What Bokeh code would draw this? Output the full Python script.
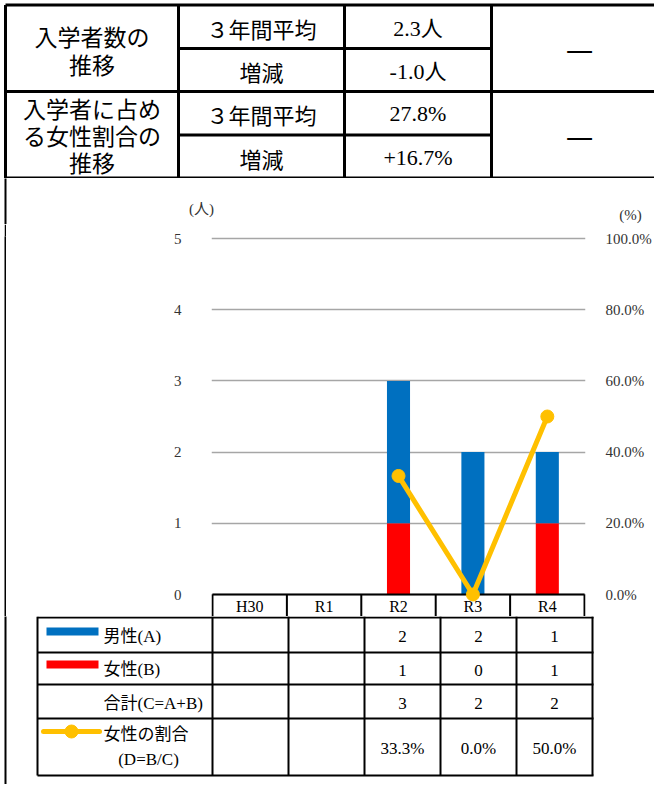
from bokeh.plotting import figure
from bokeh.models import (Range1d, FactorRange, LinearAxis, FixedTicker,
                          PrintfTickFormatter, ColumnDataSource, Spacer)
from bokeh.layouts import column, row
from bokeh.transform import dodge
from bokeh.embed import file_html
from bokeh.resources import INLINE
from bokeh.core.properties import value

# ---------------- data ----------------
categories = ["H30", "R1", "R2", "R3", "R4"]
male = [None, None, 2, 2, 1]
female = [None, None, 1, 0, 1]
total = [None, None, 3, 2, 2]
female_ratio = [None, None, 33.3, 0.0, 50.0]

count_ticks = [0, 1, 2, 3, 4, 5]
ratio_ticks = [0, 20, 40, 60, 80, 100]

summary_group1 = ["入学者数の", "推移"]
summary_group2 = ["入学者に占め", "る女性割合の", "推移"]
summary_items = ["３年間平均", "増減", "３年間平均", "増減"]
summary_values = ["2.3人", "-1.0人", "27.8%", "+16.7%"]
summary_notes = ["—", "—"]

table_row_labels = ["男性(A)", "女性(B)", "合計(C=A+B)", "女性の割合"]
table_ratio_sub = "(D=B/C)"
left_unit = "(人)"
right_unit = "(%)"

# ---------------- styles ----------------
BLUE = "#0070C0"
RED = "#FF0000"
GOLD = "#FFC000"
GRID = "#A6A6A6"
TICK = "#333333"
JP = "Noto Sans CJK JP"
MIX = "Liberation Serif, Noto Sans CJK JP"
SERIF = "Liberation Serif"
W = 654


def blank(width, height, xr, yr, **kw):
    p = figure(width=width, height=height, x_range=xr, y_range=yr,
               toolbar_location=None, output_backend="svg", min_border=0,
               x_axis_location=None, y_axis_location=None,
               outline_line_color=None, **kw)
    p.grid.visible = False
    return p


def lines(p, segs, width, color="black"):
    p.segment(x0=[s[0] for s in segs], y0=[s[1] for s in segs],
              x1=[s[2] for s in segs], y1=[s[3] for s in segs],
              line_width=width, line_color=color)


# ---------------- top summary table ----------------
pa = blank(W, 178, Range1d(0, W), Range1d(178, 0))
c1, c2, c3, c4, c5 = 5, 178, 344, 491, W
r0, r1, r2, r3, r4 = 4.5, 48, 91, 134.5, 177
lines(pa, [(c1, r0, c5, r0), (c1, r0, c1, 178), (c1, r2, c5, r2),
           (c2, r1, c4, r1), (c2, r3, c4, r3),
           (c2, r0, c2, 178), (c3, r0, c3, 178), (c4, r0, c4, 178)], 3)
lines(pa, [(c1, r4, c5, r4)], 2)

pa.text(x=[91.5] * 2, y=[35, 63], text=summary_group1,
        text_font=value(JP), text_font_size="23px",
        text_align="center", text_baseline="middle", text_color="black")
pa.text(x=[91.5] * 3, y=[107.5, 134.5, 161], text=summary_group2,
        text_font=value(JP), text_font_size="23px",
        text_align="center", text_baseline="middle", text_color="black")
row_y = [27.5, 70.5, 113, 157]
pa.text(x=[(c2 + c3) / 2] * 4, y=row_y, text=summary_items,
        text_font=value(JP), text_font_size="22px",
        text_align="center", text_baseline="middle", text_color="black")
pa.text(x=[(c3 + c4) / 2] * 4, y=row_y, text=summary_values,
        text_font=value(MIX), text_font_size="22px",
        text_align="center", text_baseline="middle", text_color="black")
pa.text(x=[579, 579], y=[47, 134], text=summary_notes,
        text_font=value(JP), text_font_size="31px",
        text_align="center", text_baseline="middle", text_color="black")

# ---------------- unit captions strip ----------------
pu = blank(W, 46, Range1d(0, W), Range1d(224, 178))
lines(pu, [(5, 170, 5, 230)], 2)
pu.text(x=[201, 630], y=[208, 214], text=[left_unit, right_unit],
        text_font=value(MIX), text_font_size="15px",
        text_align="center", text_baseline="middle", text_color=TICK)

# ---------------- chart ----------------
PX = 356 / 5.0           # pixels per person
y0 = -(616 - 594) / PX
y1 = (594 - 236) / PX

has = [m is not None for m in male]
src = ColumnDataSource(dict(
    cat=[c for c, h in zip(categories, has) if h],
    male=[v for v, h in zip(male, has) if h],
    female=[v for v, h in zip(female, has) if h],
    ratio=[v for v, h in zip(female_ratio, has) if h],
))

pb = figure(width=648, height=392,
            x_range=FactorRange(factors=categories, range_padding=1 / 76,
                                range_padding_units="absolute"),
            y_range=Range1d(y0, y1),
            toolbar_location=None, output_backend="svg",
            min_border_left=205, min_border_right=61,
            min_border_top=12, min_border_bottom=0,
            x_axis_location=None, outline_line_color=None)
pb.xgrid.visible = False
pb.ygrid.grid_line_color = GRID
pb.ygrid.grid_line_width = 1.5

ya = pb.yaxis[0]
ya.ticker = FixedTicker(ticks=count_ticks)
ya.axis_line_color = None
ya.major_tick_line_color = None
ya.minor_tick_line_color = None
ya.major_label_standoff = 24
ya.major_label_text_font = SERIF
ya.major_label_text_font_size = "15px"
ya.major_label_text_color = TICK

pb.extra_y_ranges = {"pct": Range1d(y0 * 20, y1 * 20)}
ra = LinearAxis(y_range_name="pct", ticker=FixedTicker(ticks=ratio_ticks),
                formatter=PrintfTickFormatter(format="%.1f%%"))
ra.axis_line_color = None
ra.major_tick_line_color = None
ra.minor_tick_line_color = None
ra.major_label_standoff = 14
ra.major_label_text_font = SERIF
ra.major_label_text_font_size = "15px"
ra.major_label_text_color = TICK
pb.add_layout(ra, "right")

pb.vbar_stack(["female", "male"], x="cat", width=0.31, color=[RED, BLUE],
              line_color=None, source=src)

# header row of the data table (category labels)
cats_src = ColumnDataSource(dict(cat=categories))
ends_src = ColumnDataSource(dict(a=[categories[0]], b=[categories[-1]]))
pb.segment(x0=dodge("cat", -0.5, range=pb.x_range), y0=0,
           x1=dodge("cat", -0.5, range=pb.x_range), y1=y0,
           source=cats_src, line_width=2, line_color="black")
pb.segment(x0=dodge("b", 0.5, range=pb.x_range), y0=0,
           x1=dodge("b", 0.5, range=pb.x_range), y1=y0,
           source=ends_src, line_width=2, line_color="black")
pb.segment(x0=dodge("a", -0.5, range=pb.x_range), y0=0,
           x1=dodge("b", 0.5, range=pb.x_range), y1=0,
           source=ends_src, line_width=2, line_color="black")
pb.text(x="cat", y=-(606 - 594) / PX, text="cat", source=cats_src,
        text_font=value(SERIF), text_font_size="16px",
        text_align="center", text_baseline="middle", text_color="black")

pb.line(x="cat", y="ratio", y_range_name="pct", source=src,
        line_color=GOLD, line_width=5, line_join="round")
pb.scatter(x="cat", y="ratio", y_range_name="pct", source=src,
           size=13, color=GOLD)

# left frame border beside the chart
pgap = Spacer(width=4, height=392)
pthin = blank(2, 392, Range1d(0, 1), Range1d(0, 1),
              background_fill_color="black", border_fill_color="black")

# ---------------- data table ----------------
pc = blank(W, 168, Range1d(0, W), Range1d(784, 616))
edges = [212 + 76 * i for i in range(len(categories) + 1)]
tl = 37
h_rows = [617, 652, 684, 718, 775]
lines(pc, [(tl, y, edges[-1] + 1, y) for y in h_rows], 2)
lines(pc, [(x, 616, x, 775) for x in [tl] + edges], 2)
lines(pc, [(5, 610, 5, 790)], 2)

# legend swatches
pc.quad(left=[46, 46], right=[98, 98], top=[627, 660], bottom=[635, 668],
        color=[BLUE, RED], line_color=None)
pc.line(x=[43, 99], y=[731, 731], line_color=GOLD, line_width=5,
        line_cap="round")
pc.scatter(x=[71], y=[731], size=13, color=GOLD)

pc.text(x=[103] * 4, y=[636, 669, 702.5, 734], text=table_row_labels,
        text_font=value(MIX), text_font_size="17px",
        text_align="left", text_baseline="middle", text_color="black")
pc.text(x=[148], y=[759], text=[table_ratio_sub],
        text_font=value(SERIF), text_font_size="17px",
        text_align="center", text_baseline="middle", text_color="black")

row_ys = [636, 669.5, 702.5, 748]
rows = [male, female, total, female_ratio]
fmts = ["{:d}", "{:d}", "{:d}", "{:.1f}%"]
tx, ty, tt = [], [], []
for vals, yy, f in zip(rows, row_ys, fmts):
    for i, v in enumerate(vals):
        if v is not None:
            tx.append(edges[i] + 38)
            ty.append(yy)
            tt.append(f.format(v))
pc.text(x=tx, y=ty, text=tt, text_font=value(SERIF), text_font_size="17px",
        text_align="center", text_baseline="middle", text_color="black")

layout = column(pa, pu, row(pgap, pthin, pb), pc)
open("out.html", "w").write(file_html(layout, INLINE, title="入学者数の推移"))
